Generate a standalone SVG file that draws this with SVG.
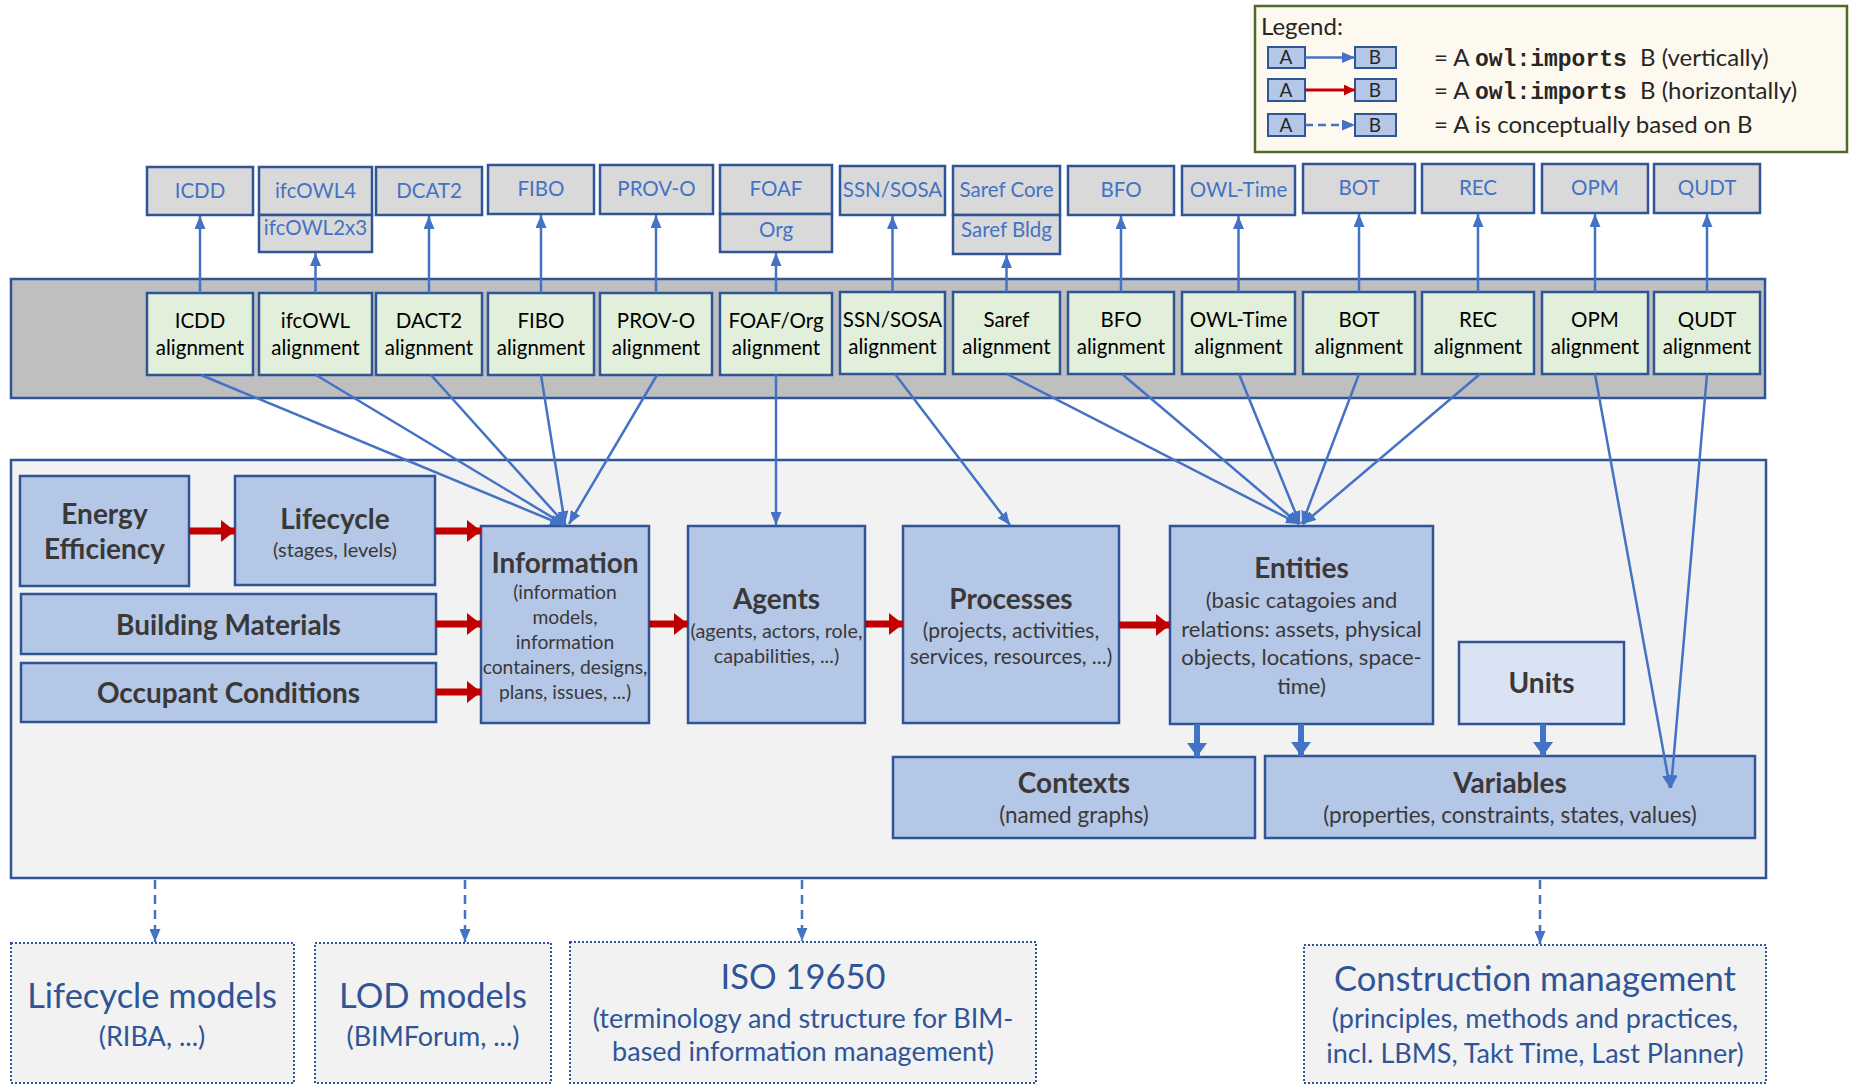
<svg xmlns="http://www.w3.org/2000/svg" width="1849" height="1089" viewBox="0 0 1849 1089">
<defs>
<style>
.ont{fill:#d9d9d9;stroke:#2f5597;stroke-width:2.5}
.ontt{font-family:Lato,"Open Sans",sans-serif;font-size:20.5px;fill:#4472c4;text-anchor:middle}
.al{fill:#e2efda;stroke:#2f5597;stroke-width:2.5}
.alt{font-family:Lato,"Open Sans",sans-serif;font-size:20.5px;fill:#000;text-anchor:middle}
.nd{fill:#b4c7e7;stroke:#2f5597;stroke-width:2.5}
.ndl{fill:#dae3f3;stroke:#2f5597;stroke-width:2.5}
.ttl{font-family:Lato,"Open Sans",sans-serif;font-weight:bold;font-size:28px;fill:#3b3838;text-anchor:middle}
.sub{font-family:Lato,"Open Sans",sans-serif;font-size:19.3px;fill:#3b3838;text-anchor:middle}
.bx{fill:#f2f2f2;stroke:#2f5597;stroke-width:2;stroke-dasharray:2,2}
.bt{font-family:Lato,"Open Sans",sans-serif;font-size:34.5px;fill:#2f5597;text-anchor:middle}
.bs{font-family:Lato,"Open Sans",sans-serif;font-size:27px;fill:#2f5597;text-anchor:middle}
.thin{stroke:#4472c4;stroke-width:2.5;fill:none;marker-end:url(#ah)}
.dash{stroke:#4472c4;stroke-width:2.5;fill:none;stroke-dasharray:9,6;marker-end:url(#ah)}
.thick{stroke:#4472c4;stroke-width:6;fill:none;marker-end:url(#ahb)}
.red{stroke:#c00000;stroke-width:7;fill:none;marker-end:url(#ahr)}
.lg{font-family:Lato,"Open Sans",sans-serif;font-size:24px;fill:#262626}
.lgm{font-family:"Liberation Mono",monospace;font-weight:bold;font-size:23px;fill:#262626}
.lab{fill:#b4c7e7;stroke:#2f5597;stroke-width:2}
.labt{font-family:Lato,"Open Sans",sans-serif;font-size:19px;fill:#262626;text-anchor:middle}
</style>
<marker id="ah" markerUnits="userSpaceOnUse" markerWidth="13" markerHeight="11" refX="13" refY="5.5" orient="auto"><path d="M0,0 L13,5.5 L0,11 z" fill="#4472c4"/></marker>
<marker id="ahb" markerUnits="userSpaceOnUse" markerWidth="14" markerHeight="20" refX="14" refY="10" orient="auto"><path d="M0,0 L14,10 L0,20 z" fill="#4472c4"/></marker>
<marker id="ahr" markerUnits="userSpaceOnUse" markerWidth="14" markerHeight="22" refX="14" refY="11" orient="auto"><path d="M0,0 L14,11 L0,22 z" fill="#c00000"/></marker>
<marker id="ahrs" markerUnits="userSpaceOnUse" markerWidth="11" markerHeight="11" refX="11" refY="5.5" orient="auto"><path d="M0,0 L11,5.5 L0,11 z" fill="#c00000"/></marker>
</defs>
<rect width="1849" height="1089" fill="#fff"/>

<!-- Legend -->
<g id="legend">
<rect x="1255" y="6" width="592" height="146" fill="#fef9ee" stroke="#4e6b2c" stroke-width="2.5"/>
<text class="lg" x="1261" y="35">Legend:</text>
<rect class="lab" x="1268" y="47" width="37" height="21"/><text class="labt" x="1286" y="64">A</text>
<rect class="lab" x="1355" y="47" width="41" height="21"/><text class="labt" x="1375" y="64">B</text>
<line x1="1305" y1="57.5" x2="1355" y2="57.5" stroke="#4472c4" stroke-width="2.5" marker-end="url(#ah)"/>
<text class="lg" x="1434" y="66">= A</text><text class="lgm" x="1475" y="66">owl:imports</text><text class="lg" x="1640" y="66">B (vertically)</text>
<rect class="lab" x="1268" y="79" width="37" height="22"/><text class="labt" x="1286" y="97">A</text>
<rect class="lab" x="1355" y="79" width="41" height="22"/><text class="labt" x="1375" y="97">B</text>
<line x1="1305" y1="90" x2="1355" y2="90" stroke="#c00000" stroke-width="3" marker-end="url(#ahrs)"/>
<text class="lg" x="1434" y="99">= A</text><text class="lgm" x="1475" y="99">owl:imports</text><text class="lg" x="1640" y="99">B (horizontally)</text>
<rect class="lab" x="1268" y="114" width="37" height="22"/><text class="labt" x="1286" y="132">A</text>
<rect class="lab" x="1355" y="114" width="41" height="22"/><text class="labt" x="1375" y="132">B</text>
<line x1="1305" y1="125" x2="1355" y2="125" stroke="#4472c4" stroke-width="2.5" stroke-dasharray="8,5" marker-end="url(#ah)"/>
<text class="lg" x="1434" y="133">= A is conceptually based on B</text>
</g>

<!-- Top ontologies -->
<g id="top-ontologies">
<g id="o-icdd"><rect class="ont" x="147" y="167" width="106" height="48"/><text class="ontt" x="200" y="198">ICDD</text></g>
<g id="o-ifcowl"><rect class="ont" x="259" y="167" width="113" height="48"/><rect class="ont" x="259" y="215" width="113" height="37"/><text class="ontt" x="315.5" y="198">ifcOWL4</text><text class="ontt" x="315.5" y="235">ifcOWL2x3</text></g>
<g id="o-dcat2"><rect class="ont" x="376" y="167" width="106" height="48"/><text class="ontt" x="429" y="198">DCAT2</text></g>
<g id="o-fibo"><rect class="ont" x="488" y="165" width="106" height="49"/><text class="ontt" x="541" y="196">FIBO</text></g>
<g id="o-provo"><rect class="ont" x="600" y="165" width="113" height="49"/><text class="ontt" x="656.5" y="196">PROV-O</text></g>
<g id="o-foaf"><rect class="ont" x="720" y="165" width="112" height="49"/><rect class="ont" x="720" y="214" width="112" height="38"/><text class="ontt" x="776" y="196">FOAF</text><text class="ontt" x="776" y="237">Org</text></g>
<g id="o-ssn"><rect class="ont" x="840" y="166" width="105" height="49"/><text class="ontt" x="892.5" y="197">SSN/SOSA</text></g>
<g id="o-saref"><rect class="ont" x="953" y="166" width="107" height="49"/><rect class="ont" x="953" y="215" width="107" height="39"/><text class="ontt" x="1006.5" y="197">Saref Core</text><text class="ontt" x="1006.5" y="237">Saref Bldg</text></g>
<g id="o-bfo"><rect class="ont" x="1068" y="166" width="106" height="49"/><text class="ontt" x="1121" y="197">BFO</text></g>
<g id="o-owltime"><rect class="ont" x="1182" y="166" width="113" height="49"/><text class="ontt" x="1238.5" y="197">OWL-Time</text></g>
<g id="o-bot"><rect class="ont" x="1303" y="164" width="112" height="49"/><text class="ontt" x="1359" y="195">BOT</text></g>
<g id="o-rec"><rect class="ont" x="1422" y="164" width="112" height="49"/><text class="ontt" x="1478" y="195">REC</text></g>
<g id="o-opm"><rect class="ont" x="1542" y="164" width="106" height="49"/><text class="ontt" x="1595" y="195">OPM</text></g>
<g id="o-qudt"><rect class="ont" x="1654" y="164" width="106" height="49"/><text class="ontt" x="1707" y="195">QUDT</text></g>
</g>

<!-- Alignment panel -->
<g id="alignment-panel">
<rect x="11" y="279" width="1754" height="119" fill="#bfbfbf" stroke="#2f5597" stroke-width="2.5"/>
</g>
<g id="alignments">
<g id="a-icdd"><rect class="al" x="147" y="293" width="106" height="82"/><text class="alt" x="200" y="328">ICDD</text><text class="alt" x="200" y="355">alignment</text></g>
<g id="a-ifcowl"><rect class="al" x="259" y="293" width="113" height="82"/><text class="alt" x="315.5" y="328">ifcOWL</text><text class="alt" x="315.5" y="355">alignment</text></g>
<g id="a-dcat2"><rect class="al" x="376" y="293" width="106" height="82"/><text class="alt" x="429" y="328">DACT2</text><text class="alt" x="429" y="355">alignment</text></g>
<g id="a-fibo"><rect class="al" x="488" y="293" width="106" height="82"/><text class="alt" x="541" y="328">FIBO</text><text class="alt" x="541" y="355">alignment</text></g>
<g id="a-provo"><rect class="al" x="600" y="293" width="112" height="82"/><text class="alt" x="656" y="328">PROV-O</text><text class="alt" x="656" y="355">alignment</text></g>
<g id="a-foaf"><rect class="al" x="720" y="293" width="112" height="82"/><text class="alt" x="776" y="328">FOAF/Org</text><text class="alt" x="776" y="355">alignment</text></g>
<g id="a-ssn"><rect class="al" x="840" y="292" width="105" height="82"/><text class="alt" x="892.5" y="327">SSN/SOSA</text><text class="alt" x="892.5" y="354">alignment</text></g>
<g id="a-saref"><rect class="al" x="953" y="292" width="107" height="82"/><text class="alt" x="1006.5" y="327">Saref</text><text class="alt" x="1006.5" y="354">alignment</text></g>
<g id="a-bfo"><rect class="al" x="1068" y="292" width="106" height="82"/><text class="alt" x="1121" y="327">BFO</text><text class="alt" x="1121" y="354">alignment</text></g>
<g id="a-owltime"><rect class="al" x="1182" y="292" width="113" height="82"/><text class="alt" x="1238.5" y="327">OWL-Time</text><text class="alt" x="1238.5" y="354">alignment</text></g>
<g id="a-bot"><rect class="al" x="1303" y="292" width="112" height="82"/><text class="alt" x="1359" y="327">BOT</text><text class="alt" x="1359" y="354">alignment</text></g>
<g id="a-rec"><rect class="al" x="1422" y="292" width="112" height="82"/><text class="alt" x="1478" y="327">REC</text><text class="alt" x="1478" y="354">alignment</text></g>
<g id="a-opm"><rect class="al" x="1542" y="292" width="106" height="82"/><text class="alt" x="1595" y="327">OPM</text><text class="alt" x="1595" y="354">alignment</text></g>
<g id="a-qudt"><rect class="al" x="1654" y="292" width="106" height="82"/><text class="alt" x="1707" y="327">QUDT</text><text class="alt" x="1707" y="354">alignment</text></g>
</g>

<!-- Core panel -->
<g id="core-panel">
<rect x="11" y="460" width="1755" height="418" fill="#f2f2f2" stroke="#2f5597" stroke-width="2.5"/>
</g>
<g id="core-nodes">
<g id="n-energy"><rect class="nd" x="20" y="476" width="169" height="110"/><text class="ttl" x="104.5" y="524">Energy</text><text class="ttl" x="104.5" y="559">Efficiency</text></g>
<g id="n-lifecycle"><rect class="nd" x="235" y="476" width="200" height="109"/><text class="ttl" x="335" y="529">Lifecycle</text><text class="sub" x="335" y="557" style="font-size:20px">(stages, levels)</text></g>
<g id="n-materials"><rect class="nd" x="21" y="594" width="415" height="60"/><text class="ttl" x="228.5" y="635">Building Materials</text></g>
<g id="n-occupant"><rect class="nd" x="21" y="663" width="415" height="59"/><text class="ttl" x="228.5" y="703">Occupant Conditions</text></g>
<g id="n-information"><rect class="nd" x="481" y="526" width="168" height="197"/><text class="ttl" x="565" y="573">Information</text><text class="sub" x="565" y="599">(information</text><text class="sub" x="565" y="624">models,</text><text class="sub" x="565" y="649">information</text><text class="sub" x="565" y="674">containers, designs,</text><text class="sub" x="565" y="699">plans, issues, ...)</text></g>
<g id="n-agents"><rect class="nd" x="688" y="526" width="177" height="197"/><text class="ttl" x="776.5" y="609">Agents</text><text class="sub" x="776.5" y="638" style="font-size:19.8px">(agents, actors, role,</text><text class="sub" x="776.5" y="663" style="font-size:19.8px">capabilities, ...)</text></g>
<g id="n-processes"><rect class="nd" x="903" y="526" width="216" height="197"/><text class="ttl" x="1011" y="609">Processes</text><text class="sub" x="1011" y="638" style="font-size:21px">(projects, activities,</text><text class="sub" x="1011" y="664" style="font-size:21px">services, resources, ...)</text></g>
<g id="n-entities"><rect class="nd" x="1170" y="526" width="263" height="198"/><text class="ttl" x="1301.5" y="578">Entities</text><text class="sub" x="1301.5" y="608" style="font-size:22px">(basic catagoies and</text><text class="sub" x="1301.5" y="637" style="font-size:22px">relations: assets, physical</text><text class="sub" x="1301.5" y="665" style="font-size:22px">objects, locations, space-</text><text class="sub" x="1301.5" y="694" style="font-size:22px">time)</text></g>
<g id="n-units"><rect class="ndl" x="1459" y="642" width="165" height="82"/><text class="ttl" x="1541.5" y="693">Units</text></g>
<g id="n-contexts"><rect class="nd" x="893" y="757" width="362" height="81"/><text class="ttl" x="1074" y="793">Contexts</text><text class="sub" x="1074" y="823" style="font-size:22.5px">(named graphs)</text></g>
<g id="n-variables"><rect class="nd" x="1265" y="756" width="490" height="82"/><text class="ttl" x="1510" y="793">Variables</text><text class="sub" x="1510" y="823" style="font-size:22.5px">(properties, constraints, states, values)</text></g>
</g>

<!-- Bottom frameworks -->
<g id="frameworks">
<g id="f-lifecycle"><rect class="bx" x="11" y="943" width="283" height="140"/><text class="bt" x="152" y="1008">Lifecycle models</text><text class="bs" x="152" y="1046">(RIBA, ...)</text></g>
<g id="f-lod"><rect class="bx" x="315" y="943" width="236" height="140"/><text class="bt" x="433" y="1008">LOD models</text><text class="bs" x="433" y="1046">(BIMForum, ...)</text></g>
<g id="f-iso"><rect class="bx" x="570" y="942" width="466" height="141"/><text class="bt" x="803" y="989">ISO 19650</text><text class="bs" x="803" y="1028">(terminology and structure for BIM-</text><text class="bs" x="803" y="1061">based information management)</text></g>
<g id="f-cm"><rect class="bx" x="1304" y="945" width="462" height="138"/><text class="bt" x="1535" y="991">Construction management</text><text class="bs" x="1535" y="1028">(principles, methods and practices,</text><text class="bs" x="1535" y="1063">incl. LBMS, Takt Time,  Last Planner)</text></g>
</g>

<!-- Connectors -->
<g id="connectors">
<line class="thin" x1="200" y1="293" x2="200" y2="216"/>
<line class="thin" x1="315.5" y1="293" x2="315.5" y2="253"/>
<line class="thin" x1="429" y1="293" x2="429" y2="216"/>
<line class="thin" x1="541" y1="293" x2="541" y2="215"/>
<line class="thin" x1="656" y1="293" x2="656" y2="215"/>
<line class="thin" x1="776" y1="293" x2="776" y2="253"/>
<line class="thin" x1="892.5" y1="292" x2="892.5" y2="216"/>
<line class="thin" x1="1006.5" y1="292" x2="1006.5" y2="255"/>
<line class="thin" x1="1121" y1="292" x2="1121" y2="216"/>
<line class="thin" x1="1238.5" y1="292" x2="1238.5" y2="216"/>
<line class="thin" x1="1359" y1="292" x2="1359" y2="214"/>
<line class="thin" x1="1478" y1="292" x2="1478" y2="214"/>
<line class="thin" x1="1595" y1="292" x2="1595" y2="214"/>
<line class="thin" x1="1707" y1="292" x2="1707" y2="214"/>
<line class="thin" x1="201" y1="375" x2="563" y2="525"/>
<line class="thin" x1="316" y1="375" x2="565" y2="525"/>
<line class="thin" x1="431" y1="375" x2="566" y2="525"/>
<line class="thin" x1="541" y1="375" x2="565" y2="524"/>
<line class="thin" x1="657" y1="375" x2="569" y2="524"/>
<line class="thin" x1="776" y1="375" x2="776" y2="525"/>
<line class="thin" x1="895" y1="374" x2="1010" y2="525"/>
<line class="thin" x1="1007" y1="374" x2="1299" y2="524"/>
<line class="thin" x1="1122" y1="374" x2="1299" y2="524"/>
<line class="thin" x1="1239" y1="374" x2="1300" y2="524"/>
<line class="thin" x1="1359" y1="374" x2="1302" y2="524"/>
<line class="thin" x1="1480" y1="374" x2="1303" y2="524"/>
<line class="thin" x1="1595" y1="374" x2="1670" y2="788"/>
<line class="thin" x1="1707" y1="374" x2="1671" y2="788"/>
<line class="red" x1="189" y1="531" x2="235" y2="531"/>
<line class="red" x1="435" y1="531" x2="481" y2="531"/>
<line class="red" x1="436" y1="624" x2="481" y2="624"/>
<line class="red" x1="436" y1="692" x2="481" y2="692"/>
<line class="red" x1="649" y1="624" x2="688" y2="624"/>
<line class="red" x1="865" y1="624" x2="903" y2="624"/>
<line class="red" x1="1119" y1="625" x2="1170" y2="625"/>
<line class="thick" x1="1197" y1="724" x2="1197" y2="757"/>
<line class="thick" x1="1301" y1="724" x2="1301" y2="756"/>
<line class="thick" x1="1543" y1="724" x2="1543" y2="756"/>
<line class="dash" x1="155" y1="880" x2="155" y2="942"/>
<line class="dash" x1="465" y1="880" x2="465" y2="942"/>
<line class="dash" x1="802" y1="880" x2="802" y2="941"/>
<line class="dash" x1="1540" y1="880" x2="1540" y2="944"/>
</g>
</svg>
